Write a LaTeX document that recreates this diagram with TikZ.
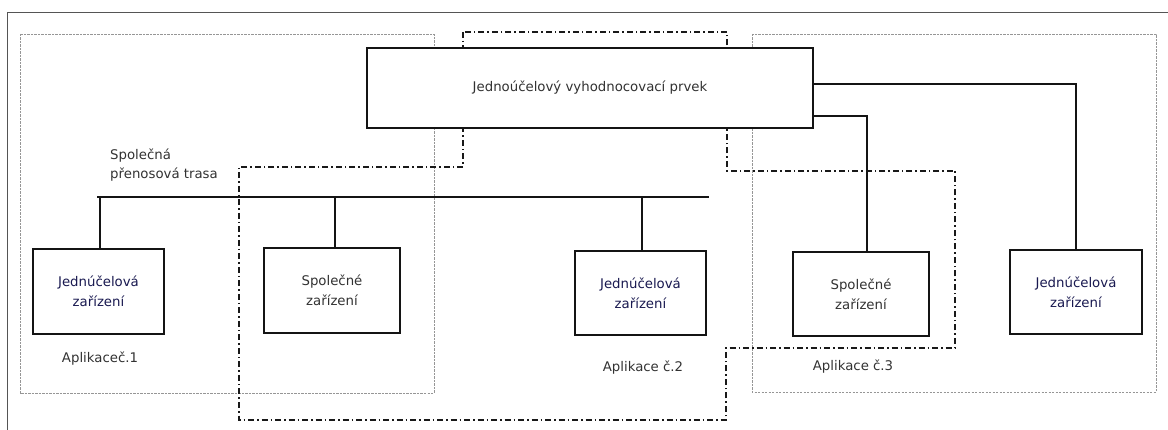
\documentclass[tikz,border=0pt]{standalone}
\usepackage{fontspec}
\setmainfont{DejaVu Sans}
\usetikzlibrary{calc}
\definecolor{txtgray}{RGB}{50,50,50}
\definecolor{txtnavy}{RGB}{25,25,80}
\definecolor{framegray}{RGB}{85,85,85}
\definecolor{dotgray}{RGB}{150,150,150}
\tikzset{
  unitbox/.style={draw=black!92, line width=1.6pt, fill=white, inner sep=0pt,
    align=center, text=txtgray, font=\fontsize{13.3}{20}\selectfont},
  devbox/.style={unitbox, text=txtnavy},
  wire/.style={draw=black!92, line width=1.6pt},
  appzone/.style={draw=dotgray, line width=0.9pt, dash pattern=on 2.2pt off 1.3pt},
  sharedzone/.style={draw=black!90, line width=2pt, dash pattern=on 6pt off 3pt on 1.5pt off 3pt},
  lbl/.style={text=txtgray, font=\fontsize{13.3}{19.5}\selectfont, inner sep=0pt},
}
\begin{document}
\begin{tikzpicture}[x=1pt, y=-1pt]
\useasboundingbox (0,0) rectangle (1168,430);

% outer frame (top and left edges only)
\draw[framegray, line width=1pt] (7,430) -- (7,13) -- (1168,13);

% application zones 1 and 3
\draw[appzone] (20,34) rectangle (434,393);
\draw[appzone] (752,34) rectangle (1156,392);

% shared-equipment zone
\draw[sharedzone] (463,32) -- (463,167) -- (239,167) -- (239,420) -- (726,420)
  -- (726,348) -- (955,348) -- (955,171) -- (727,171) -- (727,32) -- cycle;

% evaluation element
\node[unitbox, minimum width=446pt, minimum height=80pt] (main) at (590,88)
  {Jednoúčelový vyhodnocovací prvek};

% devices
\node[devbox, minimum width=131pt, minimum height=85pt] (b1) at (98.5,291.5)
  {Jednúčelová\\zařízení};
\node[unitbox, minimum width=136pt, minimum height=85pt] (b2) at (332,290.5)
  {Společné\\zařízení};
\node[devbox, minimum width=131pt, minimum height=84pt] (b3) at (640.5,293)
  {Jednúčelová\\zařízení};
\node[unitbox, minimum width=136pt, minimum height=84pt] (b4) at (861,294)
  {Společné\\zařízení};
\node[devbox, minimum width=132pt, minimum height=84pt] (b5) at (1076,292)
  {Jednúčelová\\zařízení};

% shared transmission line
\coordinate (busL) at (97,197);
\coordinate (busR) at (709,197);
\draw[wire] (busL) -- (busR);
\draw[wire] ($(main.south)+(7,0)$) -- ($(main.south)+(7,0)$ |- busL);
\draw[wire] ([xshift=1.5pt]b1.north) -- ([xshift=1.5pt]b1.north |- busL);
\draw[wire] ([xshift=3pt]b2.north) -- ([xshift=3pt]b2.north |- busL);
\draw[wire] ([xshift=1.5pt]b3.north) -- ([xshift=1.5pt]b3.north |- busL);

% direct links from the evaluation element
\draw[wire] ([yshift=-28pt]main.east) -| ([xshift=6pt]b4.north);
\draw[wire] ([yshift=4pt]main.east) -| (b5.north);

% labels
\node[lbl, anchor=west, align=left] (trasa) at (110,165) {Společná\\přenosová trasa};
\node[lbl] (app1) at (100,359) {Aplikaceč.1};
\node[lbl] (app2) at (643,368) {Aplikace č.2};
\node[lbl] (app3) at (853,367) {Aplikace č.3};
\end{tikzpicture}
\end{document}
